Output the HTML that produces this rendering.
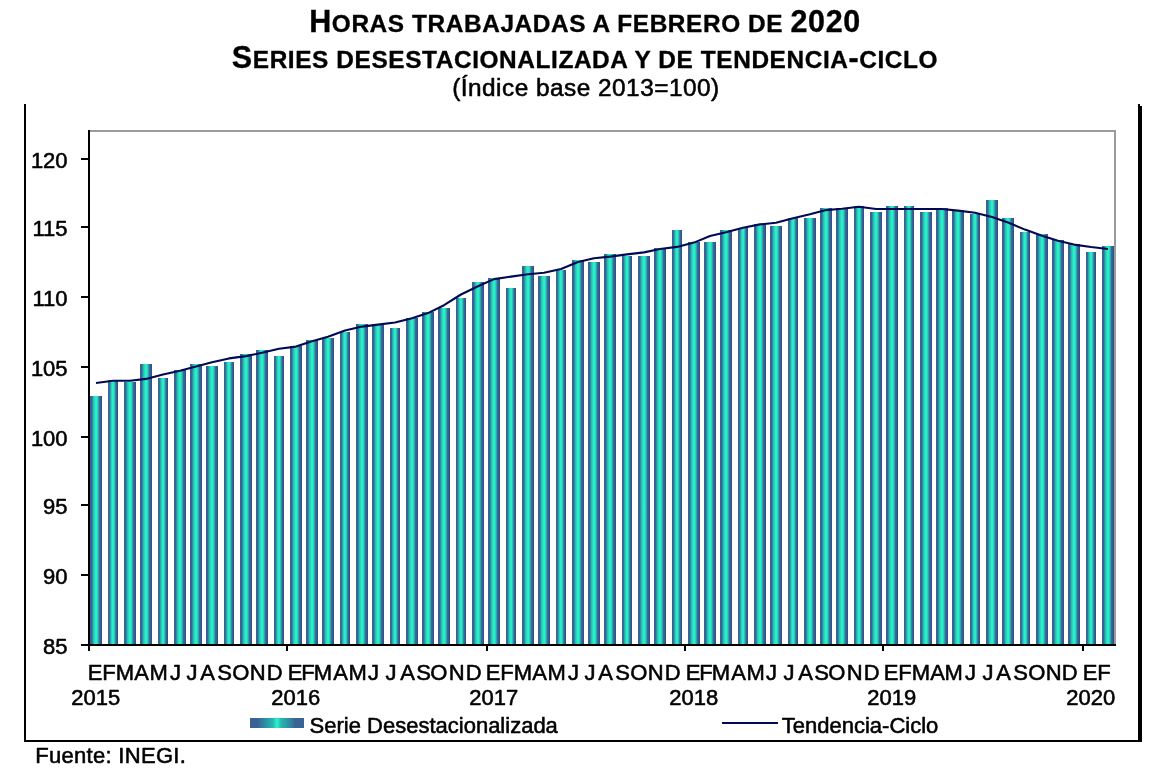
<!DOCTYPE html>
<html lang="es">
<head>
<meta charset="utf-8">
<title>Horas trabajadas a febrero de 2020</title>
<style>
html,body{margin:0;padding:0;background:#fff;}
body{width:1162px;height:780px;overflow:hidden;}
svg{display:block;}
text{font-family:"Liberation Sans", Arial, Helvetica, sans-serif;fill:#000;stroke:#000;stroke-width:0.55px;stroke-linejoin:round;}
.b{font-weight:bold;stroke-width:0.35px;}
</style>
</head>
<body>
<svg width="1162" height="780" viewBox="0 0 1162 780">
<defs><linearGradient id="g" x1="0" y1="0" x2="1" y2="0"><stop offset="0" stop-color="#3a6295"/><stop offset="0.125" stop-color="#3a6396"/><stop offset="0.208" stop-color="#2f8ea0"/><stop offset="0.292" stop-color="#27c0b4"/><stop offset="0.375" stop-color="#27d8be"/><stop offset="0.458" stop-color="#2aeec8"/><stop offset="0.542" stop-color="#2aeec8"/><stop offset="0.625" stop-color="#27d4bc"/><stop offset="0.708" stop-color="#2ba8ab"/><stop offset="0.792" stop-color="#3a6a98"/><stop offset="0.875" stop-color="#36609a"/><stop offset="0.958" stop-color="#2d5288"/><stop offset="1" stop-color="#2d5288"/></linearGradient><linearGradient id="gl" x1="0" y1="0" x2="1" y2="0"><stop offset="0" stop-color="#3a6295"/><stop offset="0.14" stop-color="#3a6295"/><stop offset="0.22" stop-color="#327c9b"/><stop offset="0.32" stop-color="#2c9aa6"/><stop offset="0.42" stop-color="#27b4b0"/><stop offset="0.47" stop-color="#28dcc0"/><stop offset="0.5" stop-color="#2af4cc"/><stop offset="0.53" stop-color="#28dcc0"/><stop offset="0.58" stop-color="#27b4b0"/><stop offset="0.68" stop-color="#2c9aa6"/><stop offset="0.78" stop-color="#327c9b"/><stop offset="0.83" stop-color="#3a6295"/><stop offset="1" stop-color="#3a6295"/></linearGradient></defs>
<rect x="0" y="0" width="1162" height="780" fill="#fff"/>
<text class="b" x="585" y="32.2" text-anchor="middle" font-size="24.4" letter-spacing="0.6"><tspan font-size="30.5">H</tspan>ORAS TRABAJADAS A FEBRERO DE <tspan font-size="30.5">2020</tspan></text>
<text class="b" x="585" y="67.6" text-anchor="middle" font-size="24.4" letter-spacing="0.6"><tspan font-size="30.5">S</tspan>ERIES DESESTACIONALIZADA Y DE TENDENCIA<tspan font-size="30.5">-</tspan>CICLO</text>
<text x="585.9" y="95.5" text-anchor="middle" font-size="24.4" letter-spacing="0.48">(Índice base 2013=100)</text>
<rect x="24" y="104" width="2" height="638" fill="#000"/>
<rect x="24" y="740" width="1118" height="2" fill="#000"/>
<rect x="1138" y="104" width="2" height="638" fill="#000"/><rect x="1140" y="106" width="2" height="636" fill="#000"/>
<rect x="89" y="130" width="1027" height="2" fill="#9b9b9b"/>
<rect x="1114" y="130" width="2" height="516" fill="#9b9b9b"/>
<rect x="90" y="396" width="12" height="249" fill="url(#g)"/>
<rect x="108" y="380" width="10" height="265" fill="url(#g)"/>
<rect x="124" y="382" width="12" height="263" fill="url(#g)"/>
<rect x="140" y="364" width="12" height="281" fill="url(#g)"/>
<rect x="158" y="378" width="10" height="267" fill="url(#g)"/>
<rect x="174" y="370" width="12" height="275" fill="url(#g)"/>
<rect x="190" y="364" width="12" height="281" fill="url(#g)"/>
<rect x="206" y="366" width="12" height="279" fill="url(#g)"/>
<rect x="224" y="362" width="10" height="283" fill="url(#g)"/>
<rect x="240" y="354" width="12" height="291" fill="url(#g)"/>
<rect x="256" y="350" width="12" height="295" fill="url(#g)"/>
<rect x="274" y="356" width="10" height="289" fill="url(#g)"/>
<rect x="290" y="346" width="12" height="299" fill="url(#g)"/>
<rect x="306" y="340" width="12" height="305" fill="url(#g)"/>
<rect x="322" y="338" width="12" height="307" fill="url(#g)"/>
<rect x="340" y="332" width="10" height="313" fill="url(#g)"/>
<rect x="356" y="324" width="12" height="321" fill="url(#g)"/>
<rect x="372" y="324" width="12" height="321" fill="url(#g)"/>
<rect x="390" y="328" width="10" height="317" fill="url(#g)"/>
<rect x="406" y="318" width="12" height="327" fill="url(#g)"/>
<rect x="422" y="312" width="12" height="333" fill="url(#g)"/>
<rect x="438" y="308" width="12" height="337" fill="url(#g)"/>
<rect x="456" y="298" width="10" height="347" fill="url(#g)"/>
<rect x="472" y="282" width="12" height="363" fill="url(#g)"/>
<rect x="488" y="278" width="12" height="367" fill="url(#g)"/>
<rect x="506" y="288" width="10" height="357" fill="url(#g)"/>
<rect x="522" y="266" width="12" height="379" fill="url(#g)"/>
<rect x="538" y="276" width="12" height="369" fill="url(#g)"/>
<rect x="556" y="270" width="10" height="375" fill="url(#g)"/>
<rect x="572" y="260" width="12" height="385" fill="url(#g)"/>
<rect x="588" y="262" width="12" height="383" fill="url(#g)"/>
<rect x="604" y="254" width="12" height="391" fill="url(#g)"/>
<rect x="622" y="256" width="10" height="389" fill="url(#g)"/>
<rect x="638" y="256" width="12" height="389" fill="url(#g)"/>
<rect x="654" y="248" width="12" height="397" fill="url(#g)"/>
<rect x="672" y="230" width="10" height="415" fill="url(#g)"/>
<rect x="688" y="242" width="12" height="403" fill="url(#g)"/>
<rect x="704" y="242" width="12" height="403" fill="url(#g)"/>
<rect x="720" y="230" width="12" height="415" fill="url(#g)"/>
<rect x="738" y="228" width="10" height="417" fill="url(#g)"/>
<rect x="754" y="224" width="12" height="421" fill="url(#g)"/>
<rect x="770" y="226" width="12" height="419" fill="url(#g)"/>
<rect x="788" y="218" width="10" height="427" fill="url(#g)"/>
<rect x="804" y="218" width="12" height="427" fill="url(#g)"/>
<rect x="820" y="208" width="12" height="437" fill="url(#g)"/>
<rect x="836" y="208" width="12" height="437" fill="url(#g)"/>
<rect x="854" y="206" width="10" height="439" fill="url(#g)"/>
<rect x="870" y="212" width="12" height="433" fill="url(#g)"/>
<rect x="886" y="206" width="12" height="439" fill="url(#g)"/>
<rect x="904" y="206" width="10" height="439" fill="url(#g)"/>
<rect x="920" y="212" width="12" height="433" fill="url(#g)"/>
<rect x="936" y="208" width="12" height="437" fill="url(#g)"/>
<rect x="952" y="210" width="12" height="435" fill="url(#g)"/>
<rect x="970" y="214" width="10" height="431" fill="url(#g)"/>
<rect x="986" y="200" width="12" height="445" fill="url(#g)"/>
<rect x="1002" y="218" width="12" height="427" fill="url(#g)"/>
<rect x="1020" y="232" width="10" height="413" fill="url(#g)"/>
<rect x="1036" y="234" width="12" height="411" fill="url(#g)"/>
<rect x="1052" y="240" width="12" height="405" fill="url(#g)"/>
<rect x="1068" y="244" width="12" height="401" fill="url(#g)"/>
<rect x="1086" y="252" width="10" height="393" fill="url(#g)"/>
<rect x="1102" y="246" width="12" height="399" fill="url(#g)"/>
<rect x="88" y="130" width="2" height="521" fill="#000"/>
<rect x="81" y="644" width="1035" height="2" fill="#000"/>
<rect x="81" y="158" width="8" height="2" fill="#000"/>
<rect x="81" y="226" width="8" height="2" fill="#000"/>
<rect x="81" y="296" width="8" height="2" fill="#000"/>
<rect x="81" y="366" width="8" height="2" fill="#000"/>
<rect x="81" y="436" width="8" height="2" fill="#000"/>
<rect x="81" y="504" width="8" height="2" fill="#000"/>
<rect x="81" y="574" width="8" height="2" fill="#000"/>
<rect x="286" y="645" width="2" height="6" fill="#000"/>
<rect x="486" y="645" width="2" height="6" fill="#000"/>
<rect x="684" y="645" width="2" height="6" fill="#000"/>
<rect x="882" y="645" width="2" height="6" fill="#000"/>
<rect x="1082" y="645" width="2" height="6" fill="#000"/>
<text x="67.6" y="168.1" text-anchor="end" font-size="22">120</text>
<text x="67.6" y="236.1" text-anchor="end" font-size="22">115</text>
<text x="67.6" y="306.1" text-anchor="end" font-size="22">110</text>
<text x="67.6" y="376.1" text-anchor="end" font-size="22">105</text>
<text x="67.6" y="446.1" text-anchor="end" font-size="22">100</text>
<text x="67.6" y="514.1" text-anchor="end" font-size="22">95</text>
<text x="67.6" y="584.1" text-anchor="end" font-size="22">90</text>
<text x="67.6" y="654.1" text-anchor="end" font-size="22">85</text>
<polyline points="96.0,383.0 113.0,380.7 130.0,380.7 146.0,378.9 163.0,374.5 180.0,370.7 196.0,366.5 212.0,362.2 229.0,358.4 246.0,356.1 262.0,352.8 279.0,348.7 296.0,346.6 312.0,341.2 328.0,336.7 345.0,330.5 362.0,326.6 378.0,324.6 395.0,322.5 412.0,318.2 428.0,313.1 444.0,305.2 461.0,294.5 478.0,286.3 494.0,279.1 511.0,276.6 528.0,274.2 544.0,272.7 561.0,269.0 578.0,262.0 594.0,258.2 610.0,256.6 627.0,254.4 644.0,252.4 660.0,249.0 677.0,246.9 694.0,242.6 710.0,236.0 726.0,232.2 743.0,227.8 760.0,224.4 776.0,222.7 793.0,218.2 810.0,214.3 826.0,210.1 842.0,208.8 859.0,206.7 876.0,209.0 892.0,209.0 909.0,209.0 926.0,209.0 942.0,209.0 958.0,210.6 975.0,212.7 992.0,217.0 1008.0,222.5 1025.0,229.6 1042.0,235.8 1058.0,240.7 1074.0,244.6 1091.0,247.0 1108.0,249.0" fill="none" stroke="#000a52" stroke-width="2.1" stroke-linejoin="round" stroke-linecap="butt"/>
<text x="95.1" y="680.4" text-anchor="middle" font-size="22">E</text>
<text x="109.0" y="680.4" text-anchor="middle" font-size="22">F</text>
<text x="125.0" y="680.4" text-anchor="middle" font-size="22">M</text>
<text x="141.6" y="680.4" text-anchor="middle" font-size="22">A</text>
<text x="158.6" y="680.4" text-anchor="middle" font-size="22">M</text>
<text x="175.6" y="680.4" text-anchor="middle" font-size="22">J</text>
<text x="192.0" y="680.4" text-anchor="middle" font-size="22">J</text>
<text x="207.6" y="680.4" text-anchor="middle" font-size="22">A</text>
<text x="224.6" y="680.4" text-anchor="middle" font-size="22">S</text>
<text x="240.8" y="680.4" text-anchor="middle" font-size="22">O</text>
<text x="257.6" y="680.4" text-anchor="middle" font-size="22">N</text>
<text x="274.6" y="680.4" text-anchor="middle" font-size="22">D</text>
<text x="295.1" y="680.4" text-anchor="middle" font-size="22">E</text>
<text x="308.0" y="680.4" text-anchor="middle" font-size="22">F</text>
<text x="323.0" y="680.4" text-anchor="middle" font-size="22">M</text>
<text x="340.6" y="680.4" text-anchor="middle" font-size="22">A</text>
<text x="357.6" y="680.4" text-anchor="middle" font-size="22">M</text>
<text x="373.6" y="680.4" text-anchor="middle" font-size="22">J</text>
<text x="391.0" y="680.4" text-anchor="middle" font-size="22">J</text>
<text x="407.6" y="680.4" text-anchor="middle" font-size="22">A</text>
<text x="423.6" y="680.4" text-anchor="middle" font-size="22">S</text>
<text x="438.8" y="680.4" text-anchor="middle" font-size="22">O</text>
<text x="456.6" y="680.4" text-anchor="middle" font-size="22">N</text>
<text x="473.6" y="680.4" text-anchor="middle" font-size="22">D</text>
<text x="493.1" y="680.4" text-anchor="middle" font-size="22">E</text>
<text x="507.0" y="680.4" text-anchor="middle" font-size="22">F</text>
<text x="523.0" y="680.4" text-anchor="middle" font-size="22">M</text>
<text x="539.6" y="680.4" text-anchor="middle" font-size="22">A</text>
<text x="556.6" y="680.4" text-anchor="middle" font-size="22">M</text>
<text x="573.6" y="680.4" text-anchor="middle" font-size="22">J</text>
<text x="590.0" y="680.4" text-anchor="middle" font-size="22">J</text>
<text x="605.6" y="680.4" text-anchor="middle" font-size="22">A</text>
<text x="622.6" y="680.4" text-anchor="middle" font-size="22">S</text>
<text x="638.8" y="680.4" text-anchor="middle" font-size="22">O</text>
<text x="655.6" y="680.4" text-anchor="middle" font-size="22">N</text>
<text x="672.6" y="680.4" text-anchor="middle" font-size="22">D</text>
<text x="693.1" y="680.4" text-anchor="middle" font-size="22">E</text>
<text x="706.0" y="680.4" text-anchor="middle" font-size="22">F</text>
<text x="721.0" y="680.4" text-anchor="middle" font-size="22">M</text>
<text x="738.6" y="680.4" text-anchor="middle" font-size="22">A</text>
<text x="755.6" y="680.4" text-anchor="middle" font-size="22">M</text>
<text x="771.6" y="680.4" text-anchor="middle" font-size="22">J</text>
<text x="789.0" y="680.4" text-anchor="middle" font-size="22">J</text>
<text x="805.6" y="680.4" text-anchor="middle" font-size="22">A</text>
<text x="821.6" y="680.4" text-anchor="middle" font-size="22">S</text>
<text x="836.8" y="680.4" text-anchor="middle" font-size="22">O</text>
<text x="854.6" y="680.4" text-anchor="middle" font-size="22">N</text>
<text x="871.6" y="680.4" text-anchor="middle" font-size="22">D</text>
<text x="891.1" y="680.4" text-anchor="middle" font-size="22">E</text>
<text x="905.0" y="680.4" text-anchor="middle" font-size="22">F</text>
<text x="921.0" y="680.4" text-anchor="middle" font-size="22">M</text>
<text x="937.6" y="680.4" text-anchor="middle" font-size="22">A</text>
<text x="953.6" y="680.4" text-anchor="middle" font-size="22">M</text>
<text x="970.6" y="680.4" text-anchor="middle" font-size="22">J</text>
<text x="988.0" y="680.4" text-anchor="middle" font-size="22">J</text>
<text x="1003.6" y="680.4" text-anchor="middle" font-size="22">A</text>
<text x="1020.6" y="680.4" text-anchor="middle" font-size="22">S</text>
<text x="1036.8" y="680.4" text-anchor="middle" font-size="22">O</text>
<text x="1053.6" y="680.4" text-anchor="middle" font-size="22">N</text>
<text x="1069.6" y="680.4" text-anchor="middle" font-size="22">D</text>
<text x="1090.1" y="680.4" text-anchor="middle" font-size="22">E</text>
<text x="1104.0" y="680.4" text-anchor="middle" font-size="22">F</text>
<text x="95.8" y="704.6" text-anchor="middle" font-size="22">2015</text>
<text x="295.8" y="704.6" text-anchor="middle" font-size="22">2016</text>
<text x="493.8" y="704.6" text-anchor="middle" font-size="22">2017</text>
<text x="693.8" y="704.6" text-anchor="middle" font-size="22">2018</text>
<text x="891.8" y="704.6" text-anchor="middle" font-size="22">2019</text>
<text x="1090.8" y="704.6" text-anchor="middle" font-size="22">2020</text>
<rect x="250" y="718" width="54" height="10" fill="url(#gl)"/>
<text x="309.6" y="732.6" font-size="22">Serie Desestacionalizada</text>
<rect x="722" y="722" width="56" height="2" fill="#000a52"/>
<text x="781.8" y="732.6" font-size="22">Tendencia-Ciclo</text>
<text x="35.2" y="763.4" font-size="22" letter-spacing="0.3">Fuente: INEGI.</text>
</svg>
</body>
</html>
